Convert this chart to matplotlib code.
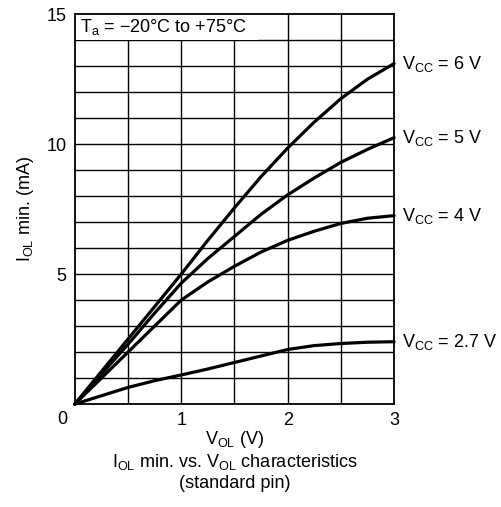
import matplotlib
matplotlib.use('Agg')
import matplotlib.pyplot as plt
from matplotlib.patches import Rectangle

plt.rcParams['font.family'] = 'Liberation Sans'
plt.rcParams['mathtext.fontset'] = 'custom'
plt.rcParams['mathtext.rm'] = 'Liberation Sans'
plt.rcParams['mathtext.it'] = 'Liberation Sans'
plt.rcParams['mathtext.default'] = 'rm'

# --- data (I_OL min. in mA vs V_OL in V) ---
v_ol = [0, 0.25, 0.5, 0.75, 1.0, 1.25, 1.5, 1.75, 2.0, 2.25, 2.5, 2.75, 3.0]
i_vcc6 = [0, 1.25, 2.5, 3.75, 5.0, 6.3, 7.55, 8.75, 9.85, 10.85, 11.75, 12.5, 13.1]
i_vcc5 = [0, 1.15, 2.3, 3.5, 4.65, 5.6, 6.45, 7.3, 8.05, 8.7, 9.3, 9.8, 10.25]
i_vcc4 = [0, 1.0, 2.0, 3.0, 4.0, 4.7, 5.3, 5.85, 6.3, 6.65, 6.95, 7.15, 7.25]
i_vcc27 = [0, 0.32, 0.64, 0.9, 1.12, 1.35, 1.6, 1.85, 2.1, 2.25, 2.33, 2.38, 2.4]

curves = [i_vcc6, i_vcc5, i_vcc4, i_vcc27]
curve_labels = ['V$_{CC}$ = 6 V', 'V$_{CC}$ = 5 V', 'V$_{CC}$ = 4 V', 'V$_{CC}$ = 2.7 V']

x_ticks = [1, 2, 3]
y_ticks = [5, 10, 15]

fig = plt.figure(figsize=(5.02, 5.07), dpi=100)
ax = fig.add_axes([0.149, 0.203, 0.636, 0.769])

# grid: 0.5 V by 1 mA
for gx in [0.5, 1.0, 1.5, 2.0, 2.5]:
    ax.axvline(gx, color='black', lw=1.0, zorder=1)
for gy in range(1, 15):
    ax.axhline(gy, color='black', lw=1.0, zorder=1)

for ys, lab in zip(curves, curve_labels):
    ax.plot(v_ol, ys, color='black', lw=2.3, solid_capstyle='round', zorder=3, clip_on=False)
    ax.annotate(lab, xy=(3.0, ys[-1]), xytext=(6, 0), textcoords='offset points',
                ha='left', va='center', fontsize=13, annotation_clip=False)

# temperature note box in the top-left cell
ax.add_patch(Rectangle((0, 14), 1.72, 1, facecolor='white', edgecolor='none', zorder=2))
ax.text(0.05, 14.5, 'T$_a$ = \u221220\u00b0C to +75\u00b0C', ha='left', va='center',
        fontsize=13, zorder=4)

ax.set_xlim(0, 3)
ax.set_ylim(0, 15)
ax.set_xticks(x_ticks)
ax.set_yticks(y_ticks)
ax.tick_params(length=0, labelsize=13, pad=6)
ax.text(-0.07, -0.6, '0', ha='right', va='center', fontsize=13)
for s in ax.spines.values():
    s.set_linewidth(1.3)

ax.set_ylabel('I$_{OL}$ min. (mA)', fontsize=13)
ax.yaxis.set_label_coords(-0.12, 0.5)

fig.text(0.467, 1 - 440 / 507, 'V$_{OL}$ (V)', ha='center', va='center', fontsize=13)
fig.text(0.467, 1 - 462 / 507, 'I$_{OL}$ min. vs. V$_{OL}$ characteristics',
         ha='center', va='center', fontsize=13)
fig.text(0.467, 1 - 484 / 507, '(standard pin)', ha='center', va='center', fontsize=13)

fig.savefig('out.png', dpi=100)
